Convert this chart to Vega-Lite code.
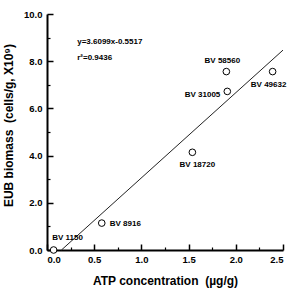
{
  "$schema": "https://vega.github.io/schema/vega-lite/v6.json",
  "width": 236,
  "height": 236,
  "autosize": "none",
  "padding": {"left": 47, "top": 14, "right": 8, "bottom": 39},
  "background": "white",
  "config": {
    "view": {"stroke": null},
    "font": "Liberation Sans",
    "axis": {"grid": false, "domainColor": "black", "domainWidth": 2, "tickColor": "black", "labelColor": "black", "titleColor": "black", "labelFont": "Liberation Sans", "titleFont": "Liberation Sans", "labelFontWeight": "bold", "titleFontWeight": "bold", "labelFontSize": 9.5, "titleFontSize": 12}
  },
  "resolve": {"axis": {"x": "independent", "y": "independent"}},
  "datasets": {
    "pts": [
      {"name": "BV 1150", "atp": 0.07, "eub": 0.0},
      {"name": "BV 8916", "atp": 0.58, "eub": 1.14},
      {"name": "BV 18720", "atp": 1.54, "eub": 4.14},
      {"name": "BV 31005", "atp": 1.91, "eub": 6.72},
      {"name": "BV 58560", "atp": 1.90, "eub": 7.56},
      {"name": "BV 49632", "atp": 2.39, "eub": 7.56}
    ],
    "fit": [
      {"atp": 0.153, "eub": 0.0},
      {"atp": 2.5, "eub": 8.47}
    ],
    "notes": [
      {"t": "y=3.6099x-0.5517", "atp": 0.32, "eub": 8.83},
      {"t": "r²=0.9436", "atp": 0.32, "eub": 8.14}
    ]
  },
  "layer": [
    {
      "data": {"name": "fit"},
      "mark": {"type": "line", "color": "#222", "strokeWidth": 1, "clip": false},
      "encoding": {
        "x": {"field": "atp", "type": "quantitative", "scale": {"domain": [0, 2.5], "nice": false, "zero": false},
          "axis": {"orient": "bottom", "values": [0.25,0.75,1.25,1.75,2.25], "tickSize": -3, "labels": false, "title": null, "domain": false, "tickWidth": 1.2}},
        "y": {"field": "eub", "type": "quantitative", "scale": {"domain": [0, 10], "nice": false},
          "axis": {"orient": "left", "values": [1,3,5,7,9], "tickSize": -3, "labels": false, "title": null, "domain": false, "tickWidth": 1.2}}
      }
    },
    {
      "data": {"name": "pts"},
      "mark": {"type": "point", "shape": "circle", "size": 44, "filled": false, "fill": "white", "fillOpacity": 1, "stroke": "black", "strokeWidth": 1, "opacity": 1, "clip": false},
      "encoding": {
        "x": {"field": "atp", "type": "quantitative",
          "axis": {"orient": "bottom", "values": [0,0.5,1,1.5,2,2.5], "format": ".1f", "tickSize": -6, "tickWidth": 1.5, "labelPadding": 10, "title": "ATP concentration\u00a0\u00a0(µg/g)", "titlePadding": 12}},
        "y": {"field": "eub", "type": "quantitative",
          "axis": {"orient": "left", "values": [0,2,4,6,8,10], "format": ".1f", "tickSize": -6, "tickWidth": 1.5, "labelPadding": 11, "title": "EUB biomass\u00a0\u00a0(cells/g, X10⁹)", "titleY": 111, "titleX": -32}}
      }
    },
    {
      "data": {"name": "notes"},
      "mark": {"type": "text", "align": "left", "baseline": "middle", "fontSize": 8, "fontWeight": "bold", "color": "black"},
      "encoding": {
        "x": {"field": "atp", "type": "quantitative", "axis": null},
        "y": {"field": "eub", "type": "quantitative", "axis": null},
        "text": {"field": "t"}
      }
    },
    {
      "data": {"name": "pts"},
      "transform": [{"filter": "datum.name == 'BV 1150'"}],
      "mark": {"type": "text", "align": "center", "baseline": "middle", "fontSize": 8, "fontWeight": "bold", "color": "black", "dx": 14, "dy": -12},
      "encoding": {"x": {"field": "atp", "type": "quantitative", "axis": null}, "y": {"field": "eub", "type": "quantitative", "axis": null}, "text": {"field": "name"}}
    },
    {
      "data": {"name": "pts"},
      "transform": [{"filter": "datum.name == 'BV 8916'"}],
      "mark": {"type": "text", "align": "left", "baseline": "middle", "fontSize": 8, "fontWeight": "bold", "color": "black", "dx": 8, "dy": 1},
      "encoding": {"x": {"field": "atp", "type": "quantitative", "axis": null}, "y": {"field": "eub", "type": "quantitative", "axis": null}, "text": {"field": "name"}}
    },
    {
      "data": {"name": "pts"},
      "transform": [{"filter": "datum.name == 'BV 18720'"}],
      "mark": {"type": "text", "align": "center", "baseline": "middle", "fontSize": 8, "fontWeight": "bold", "color": "black", "dx": 5, "dy": 13},
      "encoding": {"x": {"field": "atp", "type": "quantitative", "axis": null}, "y": {"field": "eub", "type": "quantitative", "axis": null}, "text": {"field": "name"}}
    },
    {
      "data": {"name": "pts"},
      "transform": [{"filter": "datum.name == 'BV 31005'"}],
      "mark": {"type": "text", "align": "right", "baseline": "middle", "fontSize": 8, "fontWeight": "bold", "color": "black", "dx": -7, "dy": 4},
      "encoding": {"x": {"field": "atp", "type": "quantitative", "axis": null}, "y": {"field": "eub", "type": "quantitative", "axis": null}, "text": {"field": "name"}}
    },
    {
      "data": {"name": "pts"},
      "transform": [{"filter": "datum.name == 'BV 58560'"}],
      "mark": {"type": "text", "align": "center", "baseline": "middle", "fontSize": 8, "fontWeight": "bold", "color": "black", "dx": -4, "dy": -11},
      "encoding": {"x": {"field": "atp", "type": "quantitative", "axis": null}, "y": {"field": "eub", "type": "quantitative", "axis": null}, "text": {"field": "name"}}
    },
    {
      "data": {"name": "pts"},
      "transform": [{"filter": "datum.name == 'BV 49632'"}],
      "mark": {"type": "text", "align": "center", "baseline": "middle", "fontSize": 8, "fontWeight": "bold", "color": "black", "dx": -4, "dy": 13},
      "encoding": {"x": {"field": "atp", "type": "quantitative", "axis": null}, "y": {"field": "eub", "type": "quantitative", "axis": null}, "text": {"field": "name"}}
    }
  ]
}
